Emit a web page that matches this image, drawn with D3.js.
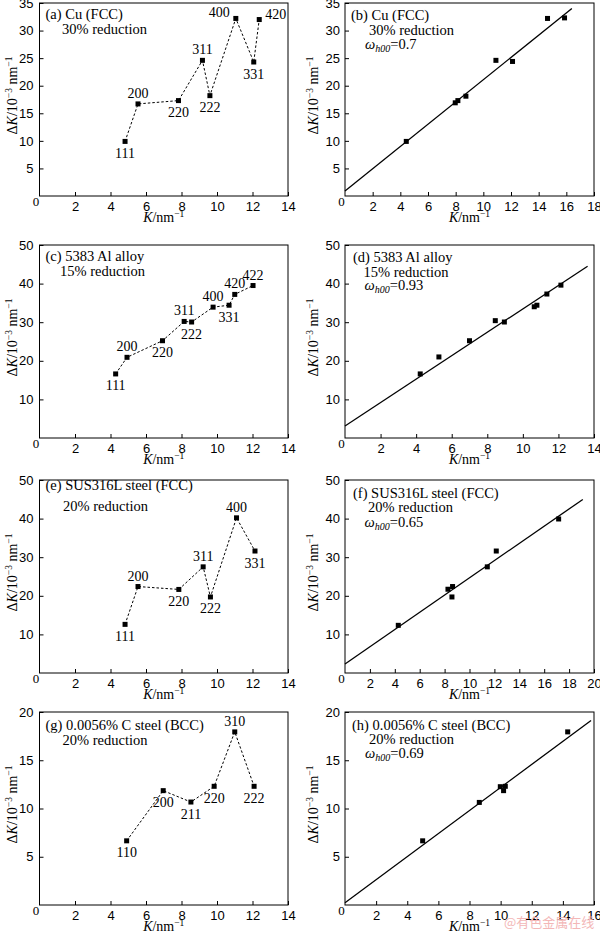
<!DOCTYPE html>
<html>
<head>
<meta charset="utf-8">
<script src="https://cdn.jsdelivr.net/npm/d3@7"></script>
<style>
  body { margin: 0; background: #fff; }
  svg { display: block; font-family: "Liberation Serif", "Times New Roman", serif; }
</style>
</head>
<body>
<svg></svg>
<script>
const size = { w: 600, h: 934 };

// (a) Cu, K vs dK
const kA = [4.82, 5.55, 7.83, 9.18, 9.6, 11.06, 12.07, 12.38];
const dkA = [9.9, 16.7, 17.3, 24.6, 18.2, 32.2, 24.3, 32.0];
const hklA = ["111", "200", "220", "311", "222", "400", "331", "420"];
// (b) Cu, modified plot
const kB = [4.43, 7.97, 8.16, 8.74, 10.91, 12.11, 14.64, 15.87];
const dkB = [9.9, 16.9, 17.3, 18.1, 24.6, 24.4, 32.2, 32.3];
const fitKB = [0, 16.4];
const fitDkB = [0.9, 34.0];
// (c) 5383 Al
const kC = [4.29, 4.93, 6.93, 8.15, 8.57, 9.78, 10.68, 11.0, 12.03];
const dkC = [16.6, 20.9, 25.2, 30.2, 30.05, 33.9, 34.4, 37.2, 39.5];
const hklC = ["111", "200", "220", "311", "222", "400", "331", "420", "422"];
// (d)
const kD = [4.23, 5.28, 7.0, 8.45, 8.96, 10.64, 10.79, 11.35, 12.14];
const dkD = [16.6, 21.0, 25.2, 30.4, 30.05, 34.0, 34.4, 37.3, 39.6];
const fitKD = [0, 13.64];
const fitDkD = [3.1, 44.5];
// (e) SUS316L
const kE = [4.82, 5.55, 7.85, 9.22, 9.63, 11.1, 12.14];
const dkE = [12.6, 22.4, 21.65, 27.5, 19.7, 40.2, 31.6];
const hklE = ["111", "200", "220", "311", "222", "400", "331"];
// (f)
const kF = [4.28, 8.27, 8.59, 8.64, 11.43, 12.15, 17.16];
const dkF = [12.35, 21.7, 19.7, 22.4, 27.5, 31.6, 39.9];
const fitKF = [0, 19.1];
const fitDkF = [2.35, 44.96];
// (g) C steel BCC
const kG = [4.91, 6.97, 8.53, 9.84, 11.0, 12.09];
const dkG = [6.65, 11.85, 10.67, 12.3, 17.94, 12.3];
const hklG = ["110", "200", "211", "220", "310", "222"];
// (h)
const kH = [4.99, 8.63, 9.98, 10.19, 10.3, 14.31];
const dkH = [6.65, 10.63, 12.26, 11.85, 12.3, 17.94];
const fitKH = [0, 15.81];
const fitDkH = [0.24, 19.12];

const titles = ["(a) Cu (FCC)", "(b) Cu (FCC)", "(c) 5383 Al alloy", "(d) 5383 Al alloy",
	"(e) SUS316L steel (FCC)", "(f) SUS316L steel (FCC)",
	"(g) 0.0056% C steel (BCC)", "(h) 0.0056% C steel (BCC)"];
const reductions = ["30% reduction", "30% reduction", "15% reduction", "15% reduction",
	"20% reduction", "20% reduction", "20% reduction", "20% reduction"];
const omegas = ["0.7", "0.93", "0.65", "0.69"];

const yMax = [35, 50, 50, 20];
const yTicks = [[5, 10, 15, 20, 25, 30, 35], [10, 20, 30, 40, 50], [10, 20, 30, 40, 50], [5, 10, 15, 20]];
const xMaxRight = [18, 14, 20, 16];

// label placement for hkl labels: b below, a above, l left, r right
const placeA = ["b", "a", "b", "a", "b", "l", "b", "r"];
const placeC = ["b", "a", "b", "a", "b", "a", "b", "a", "a"];
const placeE = ["b", "a", "b", "a", "b", "a", "b"];
const placeG = ["b", "b", "b", "b", "a", "b"];

// layout
const rowTop = [3, 245, 480, 712];
const rowBot = [196, 438, 673, 905];
const colL = [39.5, 345];
const colR = [288, 594];
// annotation lines: [x offset, baseline offset] from the frame's top-left, panels a..h
const annPos = [
	[[6, 15.5], [22.5, 30.5]],
	[[6, 17], [24, 32], [20, 45.5]],
	[[6, 15.5], [20.5, 31]],
	[[8, 17], [18.5, 31.5], [19.5, 45]],
	[[6, 9.5], [23.5, 31]],
	[[8, 18], [23, 32], [19.5, 46.5]],
	[[6, 18], [23, 32.5]],
	[[7, 18], [24, 32], [20, 46]]
];

const svg = d3.select("svg").attr("width", size.w).attr("height", size.h);

const leftData = [
	{ k: kA, dk: dkA, hkl: hklA, place: placeA },
	{ k: kC, dk: dkC, hkl: hklC, place: placeC },
	{ k: kE, dk: dkE, hkl: hklE, place: placeE },
	{ k: kG, dk: dkG, hkl: hklG, place: placeG }
];
const rightData = [
	{ k: kB, dk: dkB, fk: fitKB, fdk: fitDkB },
	{ k: kD, dk: dkD, fk: fitKD, fdk: fitDkD },
	{ k: kF, dk: dkF, fk: fitKF, fdk: fitDkF },
	{ k: kH, dk: dkH, fk: fitKH, fdk: fitDkH }
];

const fs = 13;
const fsAnn = 14.5;

function panel(row, col) {
	const x0 = colL[col], x1 = colR[col], y0 = rowBot[row], y1 = rowTop[row];
	const xMax = col === 0 ? 14 : xMaxRight[row];
	const x = d3.scaleLinear().domain([0, xMax]).range([x0, x1]);
	const y = d3.scaleLinear().domain([0, yMax[row]]).range([y0, y1]);
	const g = svg.append("g");

	const xTicks = d3.range(2, xMax + 0.1, 2);
	g.append("g")
		.attr("transform", `translate(0,${y0})`)
		.call(d3.axisBottom(x).tickValues(xTicks).tickSizeInner(-4).tickSizeOuter(0).tickPadding(6))
		.call((a) => a.select(".domain").remove())
		.call((a) => a.selectAll("text").attr("font-size", fs).attr("font-family", null));
	g.append("g")
		.attr("transform", `translate(${x0},0)`)
		.call(d3.axisLeft(y).tickValues(yTicks[row]).tickSizeInner(-4).tickSizeOuter(0).tickPadding(col === 0 ? 6 : 5))
		.call((a) => a.select(".domain").remove())
		.call((a) => a.selectAll("text").attr("font-size", fs).attr("font-family", null));
	g.selectAll(".tick line").attr("stroke", "#000");

	g.append("rect")
		.attr("x", x0).attr("y", y1)
		.attr("width", x1 - x0).attr("height", y0 - y1)
		.attr("fill", "none").attr("stroke", "#000").attr("stroke-width", 1);

	g.append("text").attr("x", x0 - 3.5).attr("y", y0 + 10).attr("text-anchor", "middle")
		.attr("font-size", fs).text("0");

	// axis titles
	const xt = g.append("text").attr("x", (x0 + x1) / 2).attr("y", y0 + 26)
		.attr("text-anchor", "middle").attr("font-size", 14);
	xt.append("tspan").attr("font-style", "italic").text("K");
	xt.append("tspan").text("/nm");
	xt.append("tspan").attr("font-size", 9.5).attr("dy", -5.5).text("\u22121");

	const ycx = col === 0 ? 17 : 318;
	const ycy = (y0 + y1) / 2 - 4;
	const yt = g.append("text").attr("transform", `translate(${ycx},${ycy}) rotate(-90)`)
		.attr("text-anchor", "middle").attr("font-size", 14);
	yt.append("tspan").text("\u0394");
	yt.append("tspan").attr("font-style", "italic").text("K");
	yt.append("tspan").text("/10");
	yt.append("tspan").attr("font-size", 9.5).attr("dy", -5.5).text("\u22123");
	yt.append("tspan").attr("dy", 5.5).text(" nm");
	yt.append("tspan").attr("font-size", 9.5).attr("dy", -5.5).text("\u22121");

	// annotations
	const idx = row * 2 + col;
	const ap = annPos[idx];
	g.append("text").attr("x", x0 + ap[0][0]).attr("y", y1 + ap[0][1]).attr("font-size", fsAnn).text(titles[idx]);
	g.append("text").attr("x", x0 + ap[1][0]).attr("y", y1 + ap[1][1]).attr("font-size", fsAnn).text(reductions[idx]);

	if (col === 0) {
		const d = leftData[row];
		const pts = d.k.map((k, i) => ({ k: k, dk: d.dk[i], hkl: d.hkl[i], p: d.place[i] }));
		g.append("path")
			.datum(pts)
			.attr("fill", "none").attr("stroke", "#000").attr("stroke-width", 1)
			.attr("stroke-dasharray", "2.5,2")
			.attr("d", d3.line().x((p) => x(p.k)).y((p) => y(p.dk)));
		g.selectAll(".pt").data(pts).join("rect")
			.attr("x", (p) => x(p.k) - 2.5).attr("y", (p) => y(p.dk) - 2.5)
			.attr("width", 5).attr("height", 5).attr("fill", "#000");
		g.selectAll(".lab").data(pts).join("text")
			.attr("font-size", 14)
			.attr("text-anchor", (p) => (p.p === "l" ? "end" : p.p === "r" ? "start" : "middle"))
			.attr("x", (p) => x(p.k) + (p.p === "l" ? -6 : p.p === "r" ? 6 : 0))
			.attr("y", (p) => y(p.dk) + (p.p === "b" ? 16.5 : p.p === "a" ? -6 : -1))
			.text((p) => p.hkl);
	} else {
		const d = rightData[row];
		g.append("text").attr("x", x0 + ap[2][0]).attr("y", y1 + ap[2][1]).attr("font-size", fsAnn)
			.call((t) => {
				t.append("tspan").attr("font-style", "italic").text("\u03c9");
				t.append("tspan").attr("font-style", "italic").attr("font-size", 10).attr("dy", 3).text("h00");
				t.append("tspan").attr("dy", -3).text("=" + omegas[row]);
			});
		g.append("line")
			.attr("x1", x(d.fk[0])).attr("y1", y(d.fdk[0]))
			.attr("x2", x(d.fk[1])).attr("y2", y(d.fdk[1]))
			.attr("stroke", "#000").attr("stroke-width", 1.3);
		g.selectAll(".pt").data(d.k).join("rect")
			.attr("x", (k) => x(k) - 2.5).attr("y", (k, i) => y(d.dk[i]) - 2.5)
			.attr("width", 5).attr("height", 5).attr("fill", "#000");
	}
}

for (let r = 0; r < 4; r++) {
	panel(r, 0);
	panel(r, 1);
}

svg.append("text")
	.attr("x", 504).attr("y", 927)
	.attr("font-family", "Noto Sans CJK SC")
	.attr("font-size", 13)
	.attr("fill", "#f3b7b7")
	.text("@有色金属在线");
</script>
</body>
</html>
